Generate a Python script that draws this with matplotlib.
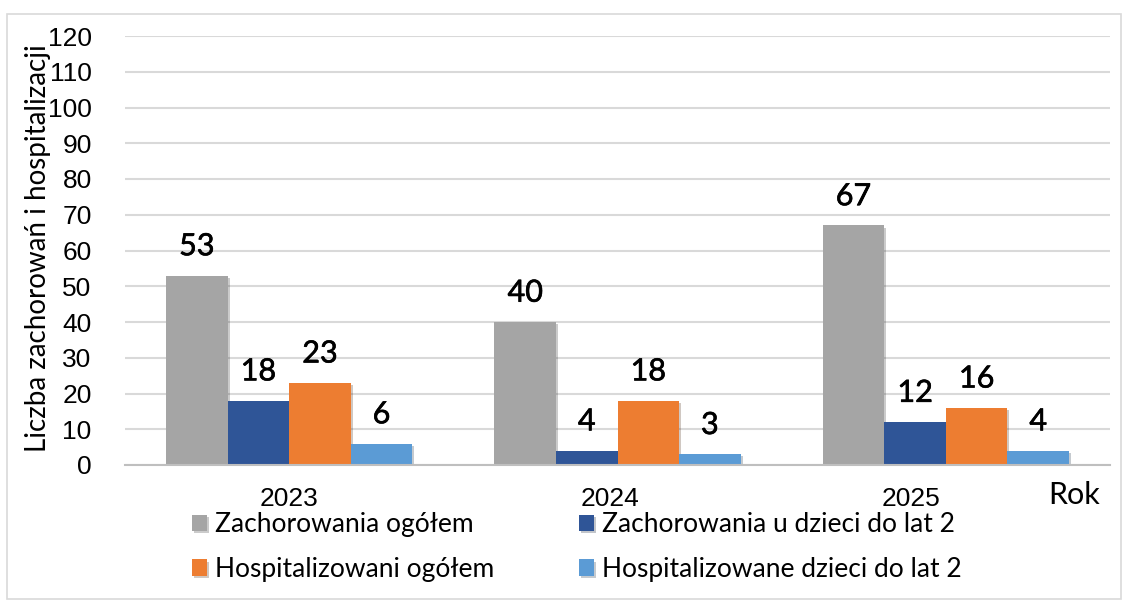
import matplotlib
matplotlib.use("Agg")
import matplotlib.pyplot as plt
import matplotlib.transforms as mtransforms
from matplotlib.patches import Rectangle
import matplotlib.patheffects as pe
import numpy as np

years = ["2023", "2024", "2025"]
series_names = ["Zachorowania ogółem", "Zachorowania u dzieci do lat 2",
                "Hospitalizowani ogółem", "Hospitalizowane dzieci do lat 2"]
zach_ogolem = [53, 40, 67]
zach_dzieci = [18, 4, 12]
hosp_ogolem = [23, 18, 16]
hosp_dzieci = [6, 3, 4]
colors = ["#A5A5A5", "#2F5597", "#ED7D31", "#5B9BD5"]
yticks = list(range(0, 121, 10))

W, H = 1124, 601
dpi = 100
fig = plt.figure(figsize=(W / dpi, H / dpi), dpi=dpi)
fig.patches.append(Rectangle((7 / W, 2 / H), (W - 10) / W, (H - 16) / H,
                             transform=fig.transFigure, fill=False,
                             edgecolor="#D9D9D9", linewidth=1.2))

ax = fig.add_axes([125 / W, 1 - 465 / H, (1110 - 125) / W, (465 - 36) / H])
x = np.arange(len(years))
bw = 0.1875
data = [zach_ogolem, zach_dzieci, hosp_ogolem, hosp_dzieci]
handles = []
for i, (vals, c, name) in enumerate(zip(data, colors, series_names)):
    pos = x + (i - 1.5) * bw
    bars = ax.bar(pos, vals, width=bw, color=c, label=name, zorder=3,
                  path_effects=[pe.SimplePatchShadow(offset=(1.5, -1.5), alpha=0.25), pe.Normal()])
    handles.append(bars)
    for p, v in zip(pos, vals):
        ax.annotate(str(v), (p, v), xytext=(0, 11), textcoords="offset points",
                    ha="center", va="bottom", fontsize=22, family="Lato",
                    color="black", zorder=4,
                    path_effects=[pe.withStroke(linewidth=0.45, foreground="black")])

ax.set_xlim(-0.5, 2.5)
ax.set_ylim(0, 120)
ax.set_yticks(yticks)
ax.set_yticklabels([str(t) for t in yticks], family="Liberation Sans", fontsize=19)
ax.set_xticks(x)
ax.set_xticklabels(years, family="Liberation Sans", fontsize=19)
ax.tick_params(axis="both", length=0)
ax.tick_params(axis="y", pad=24)
ax.tick_params(axis="x", pad=16)
offs = [0, -7, -35]
for lab, o in zip(ax.get_xticklabels(), offs):
    lab.set_transform(lab.get_transform() + mtransforms.ScaledTranslation(o / dpi, 0, fig.dpi_scale_trans))

ax.grid(axis="y", color="#D9D9D9", linewidth=1.5, zorder=0)
for s in ["top", "right", "left"]:
    ax.spines[s].set_visible(False)
ax.spines["bottom"].set_color("#BFBFBF")
ax.spines["bottom"].set_linewidth(1.5)
ax.spines["bottom"].set_zorder(5)

fig.text(38 / W, 1 - 248 / H, "Liczba zachorowań i hospitalizacji", rotation=90,
         ha="center", va="center", fontsize=20, family="Lato")
fig.text(1074 / W, 1 - 495 / H, "Rok", ha="center", va="center", fontsize=22, family="Lato")

order = [0, 2, 1, 3]
leg = fig.legend(handles=[handles[k] for k in order],
                 labels=[series_names[k] for k in order], ncol=2,
                 loc="center left", bbox_to_anchor=(184 / W, 1 - 547 / H),
                 frameon=False, prop={"family": "Lato", "size": 19},
                 handlelength=0.57, handleheight=0.57, handletextpad=0.3,
                 columnspacing=3.2, labelspacing=0.75, borderaxespad=0, borderpad=0.3)

fig.savefig("out.png", dpi=dpi)
